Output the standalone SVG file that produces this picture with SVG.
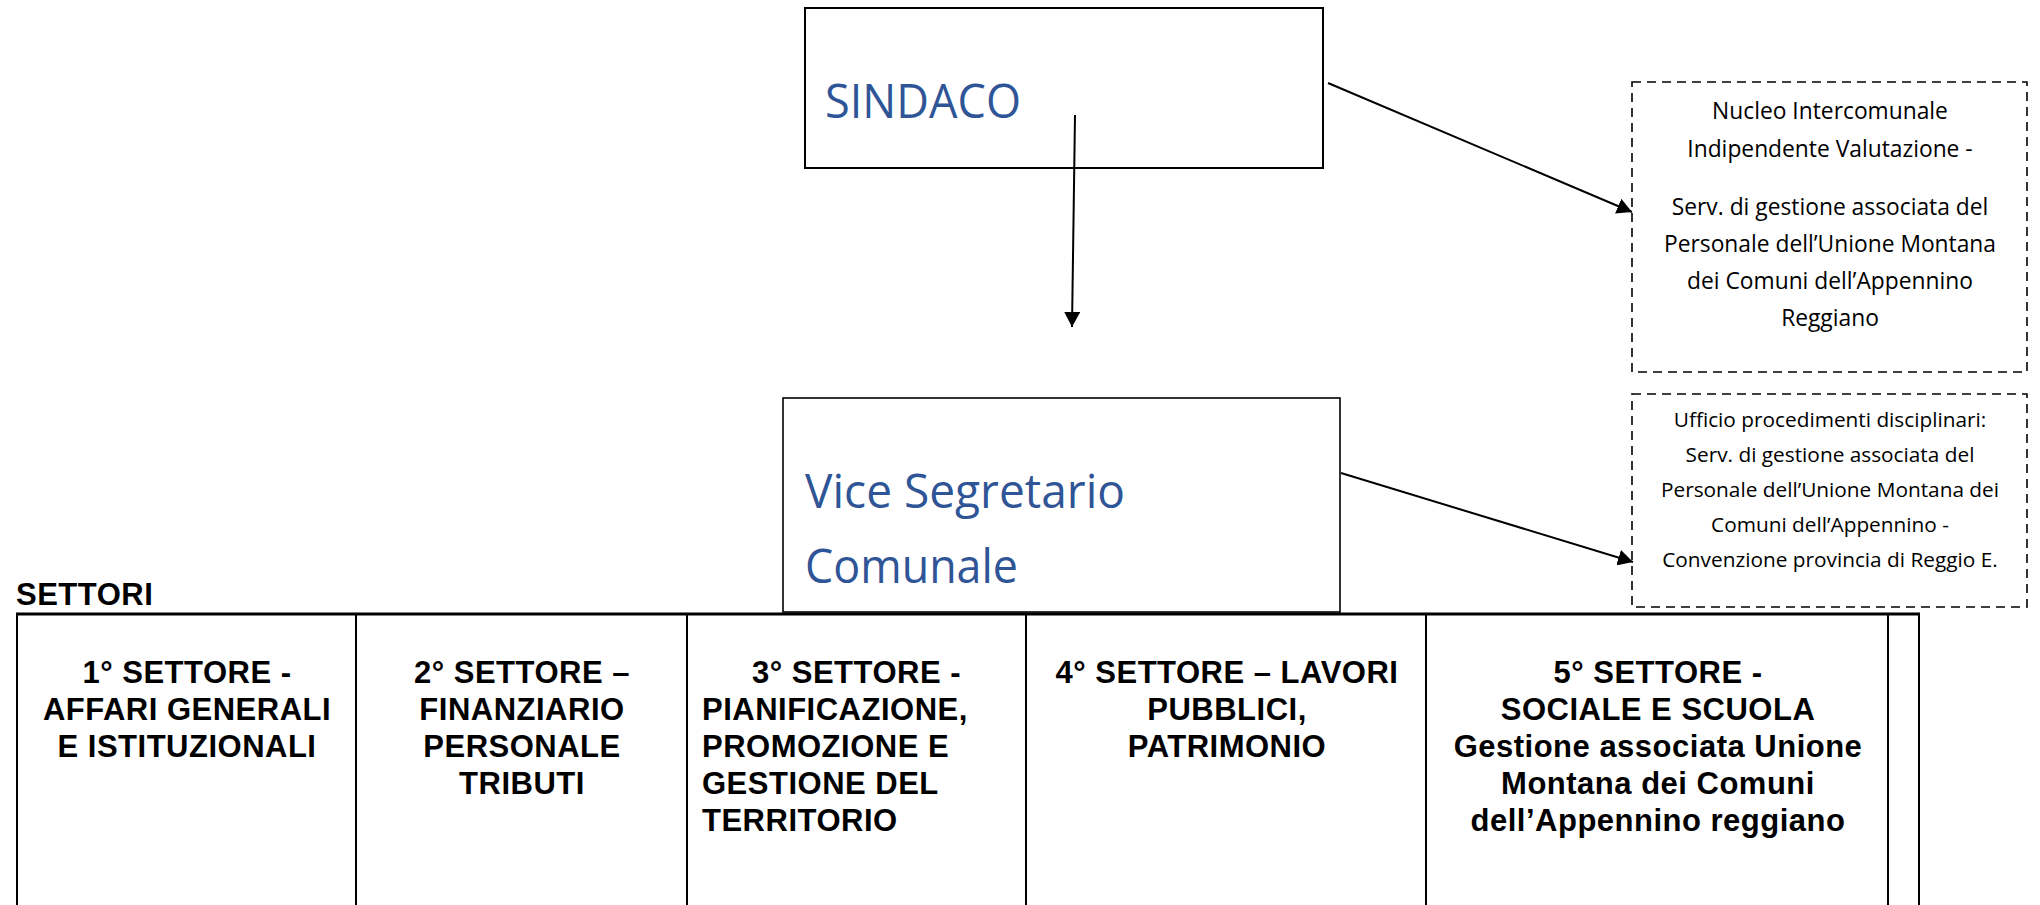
<svg xmlns="http://www.w3.org/2000/svg" width="2040" height="905" viewBox="0 0 2040 905">
<style>
.box{fill:#fff;stroke:#000;stroke-width:2}
.dash{fill:#fff;stroke:#000;stroke-width:1.6;stroke-dasharray:9 6}
.big{font-family:"Open Sans","Noto Sans","Liberation Sans",sans-serif;fill:#2F5597;font-size:47.5px}
.note1{font-family:"Open Sans","Noto Sans","Liberation Sans",sans-serif;fill:#000;font-size:22.8px;text-anchor:middle}
.note2{font-family:"Open Sans","Noto Sans","Liberation Sans",sans-serif;fill:#000;font-size:20.8px;text-anchor:middle}
.sec{font-family:"Liberation Sans",Arial,sans-serif;font-weight:bold;fill:#000;font-size:31px;letter-spacing:0.5px}
.c{text-anchor:middle}
.conn{stroke:#000;stroke-width:2;fill:none}
.grid{stroke:#000;stroke-width:2}
</style>
<defs>
<marker id="ah" markerUnits="userSpaceOnUse" markerWidth="16" markerHeight="16" refX="15" refY="8" orient="auto">
<path d="M0,0 L15,8 L0,16 z" fill="#000"/>
</marker>
</defs>
<rect width="2040" height="905" fill="#fff"/>

<g id="sindaco">
<rect class="box" x="805" y="8" width="518" height="160"/>
<text class="big" x="825" y="118" textLength="196" lengthAdjust="spacingAndGlyphs">SINDACO</text>
</g>

<g id="vice-segretario">
<rect class="box" x="783" y="398" width="557" height="214" style="stroke-width:1.6"/>
<text class="big" x="805" y="508" textLength="320" lengthAdjust="spacingAndGlyphs">Vice Segretario</text>
<text class="big" x="805" y="583" textLength="213" lengthAdjust="spacingAndGlyphs">Comunale</text>
</g>

<g id="nucleo">
<rect class="dash" x="1632" y="82" width="395" height="290"/>
<text class="note1" x="1830" y="119">Nucleo Intercomunale</text>
<text class="note1" x="1830" y="157">Indipendente Valutazione -</text>
<text class="note1" x="1830" y="215">Serv. di gestione associata del</text>
<text class="note1" x="1830" y="252">Personale dell’Unione Montana</text>
<text class="note1" x="1830" y="289">dei Comuni dell’Appennino</text>
<text class="note1" x="1830" y="326">Reggiano</text>
</g>

<g id="ufficio">
<rect class="dash" x="1632" y="394" width="395" height="213"/>
<text class="note2" x="1830" y="427">Ufficio procedimenti disciplinari:</text>
<text class="note2" x="1830" y="462">Serv. di gestione associata del</text>
<text class="note2" x="1830" y="497">Personale dell’Unione Montana dei</text>
<text class="note2" x="1830" y="532">Comuni dell’Appennino -</text>
<text class="note2" x="1830" y="567">Convenzione provincia di Reggio E.</text>
</g>

<g id="settori-label">
<text class="sec" x="16" y="605">SETTORI</text>
</g>

<g id="settori-grid">
<line class="grid" x1="16" y1="614" x2="1920" y2="614" style="stroke-width:3"/>
<line class="grid" x1="17" y1="614" x2="17" y2="905"/>
<line class="grid" x1="356" y1="614" x2="356" y2="905"/>
<line class="grid" x1="687" y1="614" x2="687" y2="905"/>
<line class="grid" x1="1026" y1="614" x2="1026" y2="905"/>
<line class="grid" x1="1426" y1="614" x2="1426" y2="905"/>
<line class="grid" x1="1888" y1="614" x2="1888" y2="905"/>
<line class="grid" x1="1919" y1="614" x2="1919" y2="905"/>
</g>

<g id="settore-1">
<text class="sec c" x="187" y="683">1° SETTORE -</text>
<text class="sec c" x="187" y="720">AFFARI GENERALI</text>
<text class="sec c" x="187" y="757">E ISTITUZIONALI</text>
</g>

<g id="settore-2">
<text class="sec c" x="522" y="683">2° SETTORE –</text>
<text class="sec c" x="522" y="720">FINANZIARIO</text>
<text class="sec c" x="522" y="757">PERSONALE</text>
<text class="sec c" x="522" y="794">TRIBUTI</text>
</g>

<g id="settore-3">
<text class="sec" x="752" y="683">3° SETTORE -</text>
<text class="sec" x="702" y="720">PIANIFICAZIONE,</text>
<text class="sec" x="702" y="757">PROMOZIONE E</text>
<text class="sec" x="702" y="794">GESTIONE DEL</text>
<text class="sec" x="702" y="831">TERRITORIO</text>
</g>

<g id="settore-4">
<text class="sec c" x="1227" y="683">4° SETTORE – LAVORI</text>
<text class="sec c" x="1227" y="720">PUBBLICI,</text>
<text class="sec c" x="1227" y="757">PATRIMONIO</text>
</g>

<g id="settore-5">
<text class="sec c" x="1658" y="683">5° SETTORE -</text>
<text class="sec c" x="1658" y="720">SOCIALE E SCUOLA</text>
<text class="sec c" x="1658" y="757">Gestione associata Unione</text>
<text class="sec c" x="1658" y="794">Montana dei Comuni</text>
<text class="sec c" x="1658" y="831">dell’Appennino reggiano</text>
</g>

<g id="connectors">
<line class="conn" x1="1075" y1="115" x2="1072" y2="327" marker-end="url(#ah)"/>
<line class="conn" x1="1328" y1="83" x2="1632" y2="212" marker-end="url(#ah)"/>
<line class="conn" x1="1341" y1="473" x2="1633" y2="562" marker-end="url(#ah)"/>
</g>
</svg>
